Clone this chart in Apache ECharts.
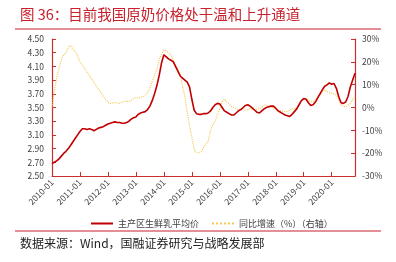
<!DOCTYPE html>
<html>
<head>
<meta charset="utf-8">
<script src="https://cdn.jsdelivr.net/npm/echarts@6/dist/echarts.min.js"></script>
<style>
html,body{margin:0;padding:0;background:#fff;}
#c{width:396px;height:262px;}
</style>
</head>
<body>
<div id="c"></div>
<script>
const titleText = '图 36：目前我国原奶价格处于温和上升通道';
const sourceText = '数据来源：Wind，国融证券研究与战略发展部';
const seriesNames = ['主产区生鲜乳平均价', '同比增速（%）（右轴）'];

const months = [];
for (let y = 2010; y <= 2020; y++) {
  for (let m = 1; m <= 12; m++) {
    if (y === 2020 && m > 11) break;
    months.push(y + '-' + (m < 10 ? '0' + m : m));
  }
}

const price = [
  2.68,2.70,2.72,2.75,2.79,2.83,2.86,2.90,2.95,3.00,3.05,3.10,
  3.15,3.19,3.19,3.18,3.19,3.18,3.16,3.18,3.20,3.21,3.22,3.24,
  3.26,3.27,3.28,3.29,3.28,3.28,3.27,3.27,3.28,3.30,3.33,3.35,
  3.36,3.40,3.42,3.43,3.44,3.47,3.52,3.60,3.70,3.82,3.97,4.15,
  4.27,4.24,4.21,4.19,4.17,4.10,4.03,3.96,3.93,3.90,3.87,3.80,
  3.62,3.46,3.41,3.40,3.40,3.41,3.41,3.42,3.45,3.50,3.54,3.56,
  3.55,3.50,3.45,3.43,3.41,3.39,3.39,3.42,3.45,3.47,3.50,3.53,
  3.54,3.52,3.49,3.46,3.43,3.42,3.45,3.48,3.50,3.51,3.52,3.52,
  3.49,3.45,3.43,3.41,3.39,3.38,3.37,3.40,3.44,3.48,3.54,3.60,
  3.63,3.62,3.57,3.53,3.54,3.58,3.64,3.70,3.76,3.81,3.83,3.86,
  3.84,3.85,3.78,3.66,3.57,3.56,3.58,3.66,3.80,3.90,4.00
];

const yoy = [
  0,7,13,17,21,23,24,26.5,27,25.5,24.5,22.5,
  20,18.5,17.2,15.5,14,12.5,11,9.5,8,6.5,4.8,3.5,
  2.2,1.8,2.0,2.2,2.0,1.8,2.3,2.8,2.6,2.5,3.2,4.0,
  4.3,4.2,4.5,4.7,5.5,6.5,8.5,11.5,14,17,21,23.5,
  25,24.8,24,23,21,18.5,16.5,15,9,5,-2,-8,
  -13,-18.5,-19.8,-19.8,-19.5,-17.5,-16,-15,-10,-7.5,-6,-3,
  -0.5,2.5,3.7,2.5,1.5,0.5,0,-0.5,-1,-0.8,-0.5,-1,
  -1,-0.6,-0.8,-1,-0.8,-0.5,0.2,1,1.1,0.8,0.3,-0.3,
  -0.8,-1.1,-1.4,-1.6,-1.8,-1.8,-1.2,-0.6,-0.5,-0.3,1.5,3.0,
  3.5,4.0,3.2,2.6,2.5,3.5,4.5,5.5,6.8,7.7,7.0,6.5,
  6.2,6.0,5.5,3.5,1.1,0.5,0.4,1.0,1.8,3.5,4.7
];

const axisRed = '#c9302c';
const chart = echarts.init(document.getElementById('c'), null, {renderer: 'canvas'});
chart.setOption({
  animation: false,
  backgroundColor: '#fff',
  textStyle: {fontFamily: '"Noto Sans CJK SC", "Noto Sans", sans-serif'},
  graphic: [
    {type: 'text', left: 20, top: 7, style: {text: titleText, fill: '#c8202c', font: '14.5px "Noto Sans CJK SC"'}},
    {type: 'rect', shape: {x: 15, y: 28.5, width: 366, height: 1}, style: {fill: '#c8202c'}},
    {type: 'rect', shape: {x: 15, y: 230.5, width: 366, height: 1}, style: {fill: '#c8202c'}},
    {type: 'text', left: 20, top: 237, style: {text: sourceText, fill: '#222', font: '12px "Noto Sans CJK SC"'}}
  ],
  legend: {
    left: 85, top: 214, itemGap: 12, itemWidth: 22, itemHeight: 8,
    textStyle: {fontSize: 9, color: '#404040'},
    itemStyle: {opacity: 0},
    data: seriesNames
  },
  grid: {left: 52, right: 41, top: 39, bottom: 86},
  xAxis: {
    type: 'category', data: months, boundaryGap: false,
    axisLine: {onZero: false, lineStyle: {color: axisRed, width: 1.2}},
    axisTick: {inside: true, length: 4, interval: 11, lineStyle: {color: axisRed}},
    axisLabel: {interval: 11, rotate: 45, fontSize: 8.5, color: '#404040', margin: 5}
  },
  yAxis: [
    {
      type: 'value', min: 2.5, max: 4.5, interval: 0.2,
      axisLine: {show: true, lineStyle: {color: axisRed, width: 1.2}},
      axisTick: {show: true, inside: true, length: 4, lineStyle: {color: axisRed}},
      axisLabel: {fontSize: 8.5, color: '#404040', margin: 8, formatter: v => v.toFixed(2)},
      splitLine: {show: false}
    },
    {
      type: 'value', min: -30, max: 30, interval: 10, position: 'right',
      axisLine: {show: true, lineStyle: {color: axisRed, width: 1.2}},
      axisTick: {show: true, inside: true, length: 4, lineStyle: {color: axisRed}},
      axisLabel: {fontSize: 8.5, color: '#404040', margin: 7, formatter: '{value}%'},
      splitLine: {show: false}
    }
  ],
  series: [
    {
      name: seriesNames[0], type: 'line', data: price, yAxisIndex: 0,
      symbol: 'none', z: 3,
      lineStyle: {color: '#c00000', width: 1.6},
      itemStyle: {color: '#c00000'}
    },
    {
      name: seriesNames[1], type: 'line', data: yoy, yAxisIndex: 1,
      symbol: 'none', z: 2,
      lineStyle: {color: '#f7c650', width: 1.1, type: 'dotted'},
      itemStyle: {color: '#f7c650'}
    }
  ]
});
</script>
</body>
</html>
